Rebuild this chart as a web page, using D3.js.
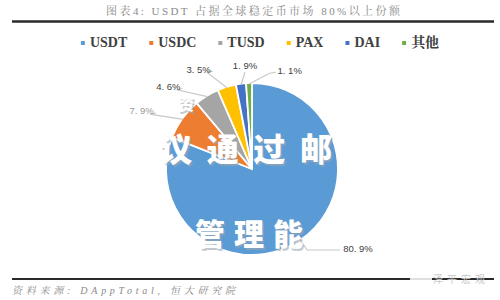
<!DOCTYPE html>
<html><head><meta charset="utf-8">
<script src="https://cdn.jsdelivr.net/npm/d3@7"></script>
<style>body{margin:0;background:#fff}svg{display:block}</style>
</head><body><svg id="c" width="500" height="300"></svg>
<script>
const categories = ["USDT","USDC","TUSD","PAX","DAI","其他"];
const values = [80.9, 7.9, 4.6, 3.5, 1.9, 1.1];
const labels = ["80. 9%","7. 9%","4. 6%","3. 5%","1. 9%","1. 1%"];
const colors = ["#5b9bd5","#ed7d31","#a5a5a5","#ffc000","#4472c4","#70ad47"];
const titleText = "图表4: USDT 占据全球稳定币市场 80%以上份额";
const sourceText = "资料来源: DAppTotal, 恒大研究院";

const svg = d3.select("#c");
const cx = 252, cy = 169, R = 86;
const sans = "'Liberation Sans','Noto Sans CJK SC',sans-serif";
const serif = "'Liberation Serif','DejaVu Serif','Noto Serif CJK SC','Noto Sans CJK SC',serif";

// title
svg.append("text").attr("x", 106).attr("y", 15)
  .attr("font-family", serif).attr("font-size", 11)
  .attr("textLength", 294).attr("lengthAdjust","spacing")
  .attr("fill","#8a8a8a").text(titleText);
svg.append("line").attr("x1",12).attr("x2",494).attr("y1",21.5).attr("y2",21.5)
  .attr("stroke","#2a2a2a").attr("stroke-width",2.5);

// legend
const leg = svg.append("g");
let lx = 0;
categories.forEach((c,i)=>{
  const g = leg.append("g").attr("transform",`translate(${lx},0)`);
  g.append("rect").attr("x",0).attr("y",-6).attr("width",4).attr("height",4).attr("fill",colors[i]);
  const t = g.append("text").attr("x",9).attr("y",0).attr("font-family",serif)
    .attr("font-weight","bold").attr("font-size",14).attr("fill","#404040").text(c);
  const w = t.node().getComputedTextLength();
  lx += 9 + w + 22;
});
const legW = lx - 22;
leg.attr("transform",`translate(${260 - legW/2},47)`);

// pie
const pie = d3.pie().sort(null).value(d=>d);
const arcs = pie(values);
const arc = d3.arc().innerRadius(0).outerRadius(R);
const pg = svg.append("g").attr("transform",`translate(${cx},${cy})`);
pg.selectAll("path").data(arcs).join("path")
  .attr("d", arc).attr("fill",(d,i)=>colors[i])
  .attr("stroke","#fff").attr("stroke-width",1.8);

// label layout: spread small-slice label angles with a minimum separation
const deg = Math.PI/180;
let la = arcs.map(d=>(d.startAngle+d.endAngle)/2);
const minSep = 18.5*deg;
const small = [1,2,3,4,5];
for (let it=0; it<300; it++){
  for (let k=0;k<small.length-1;k++){
    const a=small[k], b=small[k+1];
    const diff = la[b]-la[a];
    if (diff < minSep){ const p=(minSep-diff)/2; la[a]-=p; la[b]+=p; }
  }
}
const lr = [98,114,109,108,101,102];
const lblG = svg.append("g").attr("transform",`translate(${cx},${cy})`);
arcs.forEach((d,i)=>{
  const mid = (d.startAngle+d.endAngle)/2;
  const ex = Math.sin(mid)*(R-1), ey = -Math.cos(mid)*(R-1);
  const a = la[i];
  const s = Math.sin(a);
  const right = s > 0.15, left = s < -0.15;
  let pts, tx, ty, anchor;
  if (Math.cos(mid) < 0) {
    // lower half: radial then horizontal
    const px = Math.sin(mid)*lr[i], py = -Math.cos(mid)*lr[i];
    const hx = px + (right ? 33 : -33);
    pts = `${ex},${ey} ${px},${py} ${hx},${py}`;
    tx = hx + (right ? 3 : -3); ty = py - 1; anchor = right ? "start" : "end";
  } else {
    const px = s*lr[i], py = -Math.cos(a)*lr[i];
    if (left)      { pts = `${ex},${ey} ${px-4},${py+3} ${px+2},${py+2}`; tx = px; ty = py; anchor="end"; }
    else if (right){ pts = `${ex},${ey} ${px-8},${py+3} ${px-2},${py+2}`; tx = px; ty = py; anchor="start"; }
    else           { pts = `${ex},${ey} ${px},${py+4}`; tx = px; ty = py-3; anchor="middle"; }
  }
  lblG.append("polyline").attr("points",pts)
    .attr("fill","none").attr("stroke","#c8c8c8").attr("stroke-width",1.2);
  lblG.append("text").attr("x",tx).attr("y",ty).attr("dy","0.35em")
    .attr("text-anchor",anchor)
    .attr("font-family",sans).attr("font-size",9.5)
    .attr("fill", i===1 ? "#9a9a9a" : "#404040").text(labels[i]);
});

// watermark overlays
const wm = svg.append("g").attr("font-family","'Noto Sans CJK SC',sans-serif").attr("font-weight",900);
function wmText(x,y,size,len,txt){
  wm.append("text").attr("x",x+1.5).attr("y",y+1.5).attr("font-size",size)
    .attr("textLength",len).attr("lengthAdjust","spacing")
    .attr("fill","#9aa6b2").attr("opacity",0.6).text(txt);
  wm.append("text").attr("x",x).attr("y",y).attr("font-size",size)
    .attr("textLength",len).attr("lengthAdjust","spacing")
    .attr("fill","#ffffff").text(txt);
}
wmText(160,161,32,172,"议通过邮");
wmText(195,245,30,108,"管理能");
wmText(178,110,16,16,"资");

// bottom line & source
svg.append("line").attr("x1",12).attr("x2",494).attr("y1",279).attr("y2",279)
  .attr("stroke","#2a2a2a").attr("stroke-width",1.8);
svg.append("rect").attr("x",410).attr("y",274).attr("width",22).attr("height",10).attr("fill","#fff").attr("opacity",0.85);
svg.append("text").attr("x",433).attr("y",282.5).attr("font-family",sans).attr("font-size",10)
  .attr("textLength",52).attr("lengthAdjust","spacing")
  .attr("fill","#c8c8c8").text("泽平宏观");
svg.append("text").attr("x",12).attr("y",294).attr("font-family",serif).attr("font-style","italic")
  .attr("font-size",10).attr("textLength",223).attr("lengthAdjust","spacing")
  .attr("fill","#8a8a8a").text(sourceText);
</script></body></html>
